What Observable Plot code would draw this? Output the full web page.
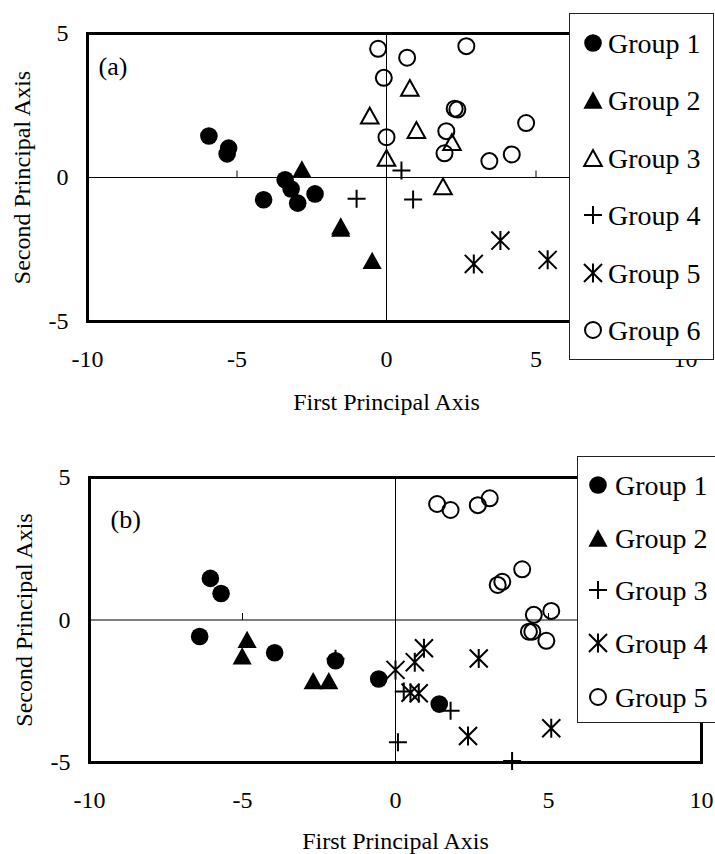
<!DOCTYPE html>
<html><head><meta charset="utf-8">
<script src="https://cdn.jsdelivr.net/npm/d3@7"></script>
<script src="https://cdn.jsdelivr.net/npm/@observablehq/plot@0.6"></script>
<style>
body{margin:0;background:#fff;}
#wrap{position:relative;width:715px;height:854px;overflow:hidden;background:#fff;font-family:"Liberation Serif",serif;}
.panel{position:absolute;left:0;}
.legend{position:absolute;background:#fff;border:1.5px solid #222;box-sizing:border-box;}
</style></head><body><div id="wrap"></div>
<script>
// ---------- data ----------
const xTicks = [-10, -5, 0, 5, 10];
const xTickLabels = ["-10", "-5", "0", "5", "10"];
const yTicks = [-5, 0, 5];
const yTickLabels = ["-5", "0", "5"];
const xTitle = "First Principal Axis";
const yTitle = "Second Principal Axis";

// panel (a)
const groupNamesA = ["Group 1", "Group 2", "Group 3", "Group 4", "Group 5", "Group 6"];
const a_g1_x = [-5.94, -5.28, -5.33, -3.39, -3.19, -2.39, -4.11, -2.97];
const a_g1_y = [1.44, 1.02, 0.82, -0.08, -0.40, -0.57, -0.77, -0.89];
const a_g2_x = [-2.83, -1.53, -1.53, -0.48];
const a_g2_y = [0.30, -1.68, -1.76, -2.88];
const a_g3_x = [-0.56, 0.78, 1.00, 0.00, 2.19, 1.89];
const a_g3_y = [2.15, 3.11, 1.65, 0.68, 1.23, -0.31];
const a_g4_x = [0.50, -1.00, 0.89];
const a_g4_y = [0.24, -0.74, -0.76];
const a_g5_x = [3.81, 2.92, 5.39];
const a_g5_y = [-2.19, -3.00, -2.86];
const a_g6_x = [-0.28, 0.69, 2.67, -0.09, 2.28, 2.37, 4.67, 0.00, 2.00, 1.94, 3.44, 4.19];
const a_g6_y = [4.47, 4.16, 4.56, 3.46, 2.39, 2.36, 1.89, 1.40, 1.61, 0.84, 0.57, 0.80];

// panel (b)
const groupNamesB = ["Group 1", "Group 2", "Group 3", "Group 4", "Group 5"];
const b_g1_x = [-6.05, -5.70, -6.40, -3.95, -1.96, -0.55, 1.43];
const b_g1_y = [1.46, 0.93, -0.58, -1.15, -1.43, -2.07, -2.95];
const b_g2_x = [-4.85, -5.01, -2.69, -2.18];
const b_g2_y = [-0.68, -1.26, -2.13, -2.13];
const b_g3_x = [0.08, 3.81, 1.80, 0.27, -1.96];
const b_g3_y = [-4.29, -4.95, -3.18, -2.51, -1.36];
const b_g4_x = [0.00, 0.63, 0.93, 2.72, 0.49, 0.76, 2.37, 5.09];
const b_g4_y = [-1.75, -1.48, -0.99, -1.35, -2.55, -2.57, -4.07, -3.80];
const b_g5_x = [1.36, 1.80, 2.69, 3.08, 3.34, 3.49, 4.14, 4.52, 5.09, 4.36, 4.47, 4.93];
const b_g5_y = [4.07, 3.86, 4.03, 4.27, 1.23, 1.34, 1.78, 0.18, 0.32, -0.41, -0.41, -0.73];

// ---------- symbols ----------
const R = s => Math.sqrt(s / Math.PI);
const symTriangle = {draw(c, s) { const r = R(s), h = r * 0.9; c.moveTo(0, -h); c.lineTo(r, h); c.lineTo(-r, h); c.closePath(); }};
const symPlus = {draw(c, s) { const r = R(s); c.moveTo(-r, 0); c.lineTo(r, 0); c.moveTo(0, -r); c.lineTo(0, r); }};
const symStar = {draw(c, s) { const r = R(s), d = r * 0.95; c.moveTo(0, -r); c.lineTo(0, r); c.moveTo(-d, -d); c.lineTo(d, d); c.moveTo(-d, d); c.lineTo(d, -d); }};
const symTickUp = {draw(c, s) { c.moveTo(0, 0); c.lineTo(0, -R(s)); }};
const symCircle = {draw(c, s) { const r = R(s); c.moveTo(r, 0); c.arc(0, 0, r, 0, 2 * Math.PI); }};

const kinds = {
  filledCircle: {symbol: symCircle, r: 8.8, fill: "black", stroke: "none", strokeWidth: 0},
  filledTriangle: {symbol: symTriangle, r: 9.6, fill: "black", stroke: "none", strokeWidth: 0},
  openTriangle: {symbol: symTriangle, r: 8.8, fill: "none", stroke: "black", strokeWidth: 2},
  plus: {symbol: symPlus, r: 9, fill: "none", stroke: "black", strokeWidth: 2},
  star: {symbol: symStar, r: 9.5, fill: "none", stroke: "black", strokeWidth: 2},
  openCircle: {symbol: symCircle, r: 8, fill: "none", stroke: "black", strokeWidth: 2}
};

const pts = (xs, ys) => xs.map((x, i) => ({x, y: ys[i]}));

const groupsA = [
  {name: groupNamesA[0], data: pts(a_g1_x, a_g1_y), kind: "filledCircle"},
  {name: groupNamesA[1], data: pts(a_g2_x, a_g2_y), kind: "filledTriangle"},
  {name: groupNamesA[2], data: pts(a_g3_x, a_g3_y), kind: "openTriangle"},
  {name: groupNamesA[3], data: pts(a_g4_x, a_g4_y), kind: "plus"},
  {name: groupNamesA[4], data: pts(a_g5_x, a_g5_y), kind: "star"},
  {name: groupNamesA[5], data: pts(a_g6_x, a_g6_y), kind: "openCircle"}
];
const groupsB = [
  {name: groupNamesB[0], data: pts(b_g1_x, b_g1_y), kind: "filledCircle"},
  {name: groupNamesB[1], data: pts(b_g2_x, b_g2_y), kind: "filledTriangle"},
  {name: groupNamesB[2], data: pts(b_g3_x, b_g3_y), kind: "plus"},
  {name: groupNamesB[3], data: pts(b_g4_x, b_g4_y), kind: "star"},
  {name: groupNamesB[4], data: pts(b_g5_x, b_g5_y), kind: "openCircle"}
];

const FONT = "Liberation Serif";

function panel({groups, tag, mt, mb, ml, mr, tagDx, tagDy, xLabelOffset}) {
  return Plot.plot({
    width: 715, height: 427,
    marginTop: mt, marginBottom: mb, marginLeft: ml, marginRight: mr,
    style: {fontFamily: FONT, fontSize: "24px", color: "black", background: "white", overflow: "visible"},
    x: {domain: [-10, 10], ticks: xTicks, tickFormat: d => xTickLabels[xTicks.indexOf(d)],
        tickSize: 0, tickPadding: 28, label: xTitle, labelAnchor: "center", labelArrow: "none", labelOffset: xLabelOffset},
    y: {domain: [-5, 5], ticks: yTicks, tickFormat: d => yTickLabels[yTicks.indexOf(d)],
        tickSize: 0, tickPadding: 19, label: yTitle, labelAnchor: "center", labelArrow: "none", labelOffset: 75},
    marks: [
      Plot.ruleY([0], {stroke: "black", strokeWidth: 1}),
      Plot.ruleX([0], {stroke: "black", strokeWidth: 1}),
      Plot.dot(xTicks, {x: d => d, y: 0, symbol: symTickUp, r: 7, stroke: "black", strokeWidth: 1, fill: "none"}),
      Plot.frame({stroke: "black", strokeWidth: 3}),
      ...groups.map(g => {
        const k = kinds[g.kind];
        return Plot.dot(g.data, {x: "x", y: "y", symbol: k.symbol, r: k.r, fill: k.fill, stroke: k.stroke, strokeWidth: k.strokeWidth});
      }),
      Plot.text([tag], {text: d => d, frameAnchor: "top-left", dx: tagDx, dy: tagDy, textAnchor: "start", lineAnchor: "middle", fontSize: 26, fill: "black"})
    ]
  });
}

function legend({groups, left, top, width, height, rowY, symX, textX}) {
  const div = document.createElement("div");
  div.className = "legend";
  Object.assign(div.style, {left: left + "px", top: top + "px", width: width + "px", height: height + "px"});
  const svg = d3.create("svg").attr("width", width).attr("height", height).style("position", "absolute").style("left", "-1.5px").style("top", "-1.5px");
  groups.forEach((g, i) => {
    const k = kinds[g.kind];
    svg.append("path")
      .attr("transform", `translate(${symX},${rowY[i]})`)
      .attr("d", d3.symbol(k.symbol, Math.PI * k.r * k.r)())
      .attr("fill", k.fill).attr("stroke", k.stroke).attr("stroke-width", k.strokeWidth);
    svg.append("text").attr("x", textX).attr("y", rowY[i]).attr("dy", "0.35em")
      .style("font-family", FONT).attr("font-size", 28).attr("fill", "black").text(g.name);
  });
  div.appendChild(svg.node());
  return div;
}

const wrap = document.getElementById("wrap");
const pa = panel({groups: groupsA, tag: "(a)", mt: 33, mb: 106, ml: 87, mr: 30, tagDx: 11, tagDy: 33, xLabelOffset: 88});
pa.classList.add("panel"); pa.style.top = "0px";
wrap.appendChild(pa);
const pb = panel({groups: groupsB, tag: "(b)", mt: 50, mb: 92, ml: 89, mr: 14, tagDx: 21, tagDy: 42, xLabelOffset: 86});
pb.classList.add("panel"); pb.style.top = "427px";
wrap.appendChild(pb);

wrap.appendChild(legend({groups: groupsA, left: 569, top: 13, width: 145, height: 347,
  rowY: [30, 87, 145, 202, 260, 317], symX: 24, textX: 39}));
wrap.appendChild(legend({groups: groupsB, left: 577, top: 456, width: 140, height: 267,
  rowY: [29, 82, 134, 187, 241], symX: 21, textX: 38}));
</script></body></html>
